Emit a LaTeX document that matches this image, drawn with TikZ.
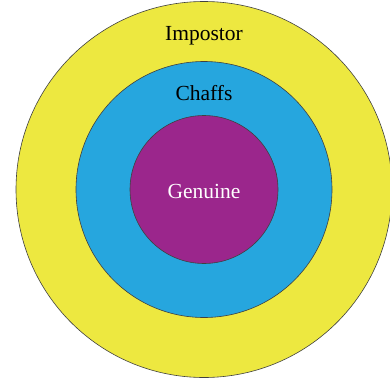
\documentclass[tikz,border=0pt]{standalone}
\usepackage{fontspec}
\setmainfont{Liberation Serif}
\usepackage{tikz}
\usetikzlibrary{positioning}
\definecolor{impyellow}{RGB}{237,232,64}
\definecolor{chaffblue}{RGB}{38,166,222}
\definecolor{genpurple}{RGB}{155,38,140}
\begin{document}
\begin{tikzpicture}[x=1pt, y=-1pt, font=\fontsize{21.5}{25}\selectfont]
\tikzstyle{ring}=[draw=black!75, line width=0.6pt, circle, inner sep=0pt]
\tikzstyle{lbl}=[anchor=base, inner sep=0pt]
\useasboundingbox (0,0) rectangle (390,383);
\node[ring, fill=impyellow, minimum size=376pt] (outer) at (204,189.5) {};
\node[ring, fill=chaffblue, minimum size=256pt] (middle) at (204,189.5) {};
\node[ring, fill=genpurple, minimum size=148pt] (inner) at (204,189.5) {};
\node[lbl] (impostor) at (204,40.5) {Impostor};
\node[lbl] (chaffs) at (204,100.5) {Chaffs};
\node[lbl, text=white] (genuine) at (204,198) {Genuine};
\end{tikzpicture}
\end{document}
